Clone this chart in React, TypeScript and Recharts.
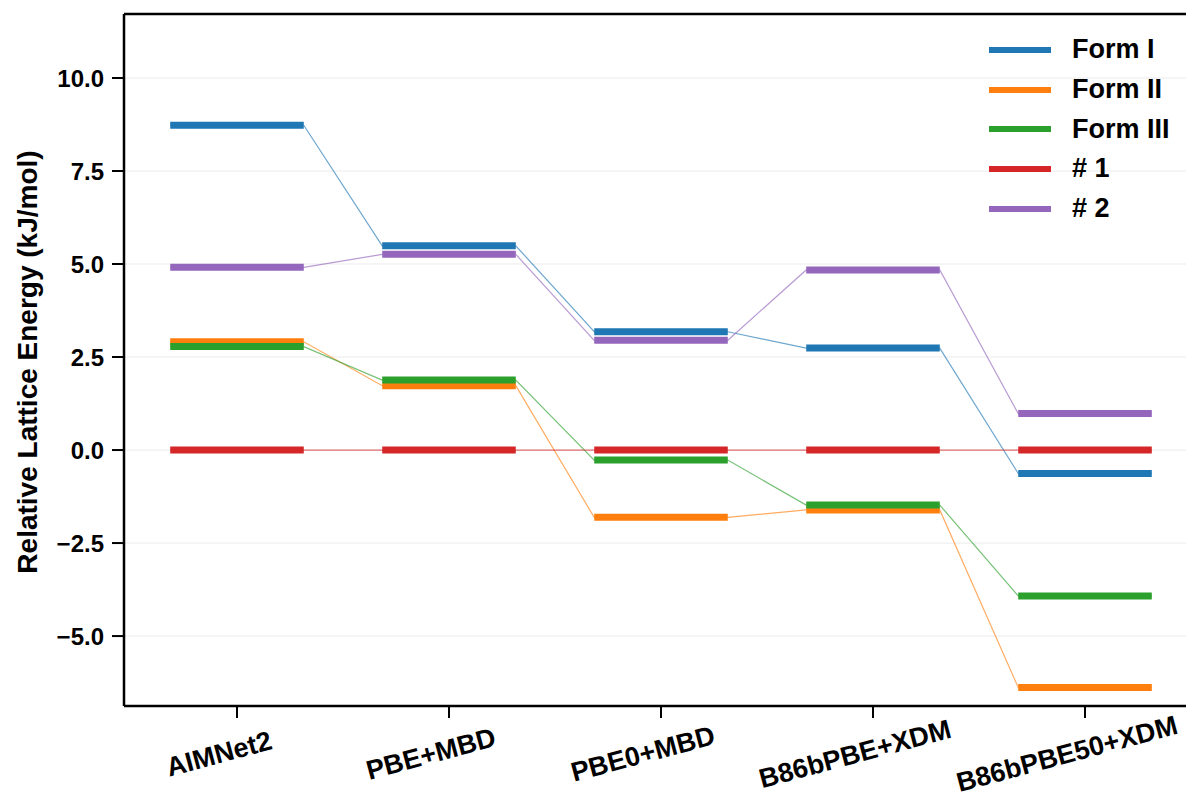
import { ComposedChart, Line, XAxis, YAxis, CartesianGrid, ReferenceLine } from "recharts";

const methods = ["AIMNet2", "PBE+MBD", "PBE0+MBD", "B86bPBE+XDM", "B86bPBE50+XDM"];

// relative lattice energies, kJ/mol
const formI = [8.73, 5.49, 3.18, 2.74, -0.63];
const formII = [2.91, 1.73, -1.81, -1.61, -6.38];
const formIII = [2.78, 1.88, -0.27, -1.48, -3.92];
const hash1 = [0, 0, 0, 0, 0];
const hash2 = [4.91, 5.26, 2.95, 4.84, 0.98];

const yTicks = [-5, -2.5, 0, 2.5, 5, 7.5, 10];
const Y_MIN = -6.88;
const Y_MAX = 11.72;

const series = [
  { key: "formI", name: "Form I", color: "#1f77b4", values: formI },
  { key: "formII", name: "Form II", color: "#ff7f0e", values: formII },
  { key: "formIII", name: "Form III", color: "#2ca02c", values: formIII },
  { key: "hash1", name: "# 1", color: "#d62728", values: hash1 },
  { key: "hash2", name: "# 2", color: "#9467bd", values: hash2 },
];

const HALF = 0.315; // half width of a level bar, in category units
const FONT = '"Liberation Sans", Arial, Helvetica, sans-serif';

// two rows per level (bar ends) plus an empty row between methods,
// so the thick lines break there while the thin connectors bridge it
const rows: Record<string, number | undefined>[] = [];
methods.forEach((_, i) => {
  const left: Record<string, number | undefined> = { x: i - HALF };
  const right: Record<string, number | undefined> = { x: i + HALF };
  series.forEach((s) => {
    left[s.key] = s.values[i];
    right[s.key] = s.values[i];
  });
  rows.push(left, right);
  if (i < methods.length - 1) rows.push({ x: i + 0.5 });
});

const XTick = ({ x, y, payload }: any) => {
  const cx = x - 18;
  const cy = y + 34;
  return (
    <text
      x={cx}
      y={cy}
      textAnchor="middle"
      dominantBaseline="central"
      transform={`rotate(-15 ${cx} ${cy})`}
      fontSize={27}
      fontWeight={700}
      fontFamily={FONT}
      fill="#000"
    >
      {methods[payload.value]}
    </text>
  );
};

const fmt = (v: number) => v.toFixed(1).replace("-", "\u2212");

export default function App() {
  return (
    <div
      style={{
        position: "absolute",
        left: 0,
        top: 0,
        width: 1186,
        height: 793,
        overflow: "hidden",
        background: "#fff",
        fontFamily: FONT,
      }}
    >
      <ComposedChart
        width={1230}
        height={793}
        data={rows}
        margin={{ top: 14, right: 32, bottom: 0, left: 0 }}
      >
        <CartesianGrid vertical={false} stroke="#ebebeb" strokeWidth={1} />
        <XAxis
          type="number"
          dataKey="x"
          domain={[-0.533, 4.533]}
          ticks={[0, 1, 2, 3, 4]}
          interval={0}
          allowDataOverflow
          height={87}
          tickSize={12}
          tick={<XTick />}
          axisLine={{ stroke: "#000", strokeWidth: 2.5 }}
          tickLine={{ stroke: "#000", strokeWidth: 2 }}
        />
        <YAxis
          type="number"
          domain={[Y_MIN, Y_MAX]}
          ticks={yTicks}
          interval={0}
          allowDataOverflow
          width={124}
          tickSize={12}
          tickMargin={8}
          tickFormatter={fmt}
          tick={{ fontSize: 24, fontWeight: 700, fill: "#000", fontFamily: FONT }}
          axisLine={{ stroke: "#000", strokeWidth: 2.5 }}
          tickLine={{ stroke: "#000", strokeWidth: 2 }}
          label={{
            content: () => (
              <text
                x={27}
                y={362}
                transform="rotate(-90 27 362)"
                textAnchor="middle"
                dominantBaseline="central"
                fontSize={28}
                fontWeight={700}
                fontFamily={FONT}
                fill="#000"
              >
                Relative Lattice Energy (kJ/mol)
              </text>
            ),
          }}
        />
        {/* top frame line */}
        <ReferenceLine y={Y_MAX} stroke="#000" strokeWidth={2.5} ifOverflow="visible" />
        {series.map((s) => (
          <Line
            key={s.key + "-link"}
            dataKey={s.key}
            type="linear"
            stroke={s.color}
            strokeWidth={1.2}
            strokeOpacity={0.65}
            connectNulls
            dot={false}
            activeDot={false}
            isAnimationActive={false}
          />
        ))}
        {series.map((s) => (
          <Line
            key={s.key + "-level"}
            dataKey={s.key}
            type="linear"
            stroke={s.color}
            strokeWidth={7}
            strokeLinecap="butt"
            connectNulls={false}
            dot={false}
            activeDot={false}
            isAnimationActive={false}
          />
        ))}
      </ComposedChart>
      <div style={{ position: "absolute", left: 989, top: 30 }}>
        {series.map((s) => (
          <div
            key={s.key}
            style={{ height: 39.7, display: "flex", alignItems: "center" }}
          >
            <div style={{ width: 62, height: 6, background: s.color, marginRight: 21 }} />
            <span style={{ fontSize: 27, fontWeight: 700, lineHeight: 1, color: "#000" }}>
              {s.name}
            </span>
          </div>
        ))}
      </div>
    </div>
  );
}
